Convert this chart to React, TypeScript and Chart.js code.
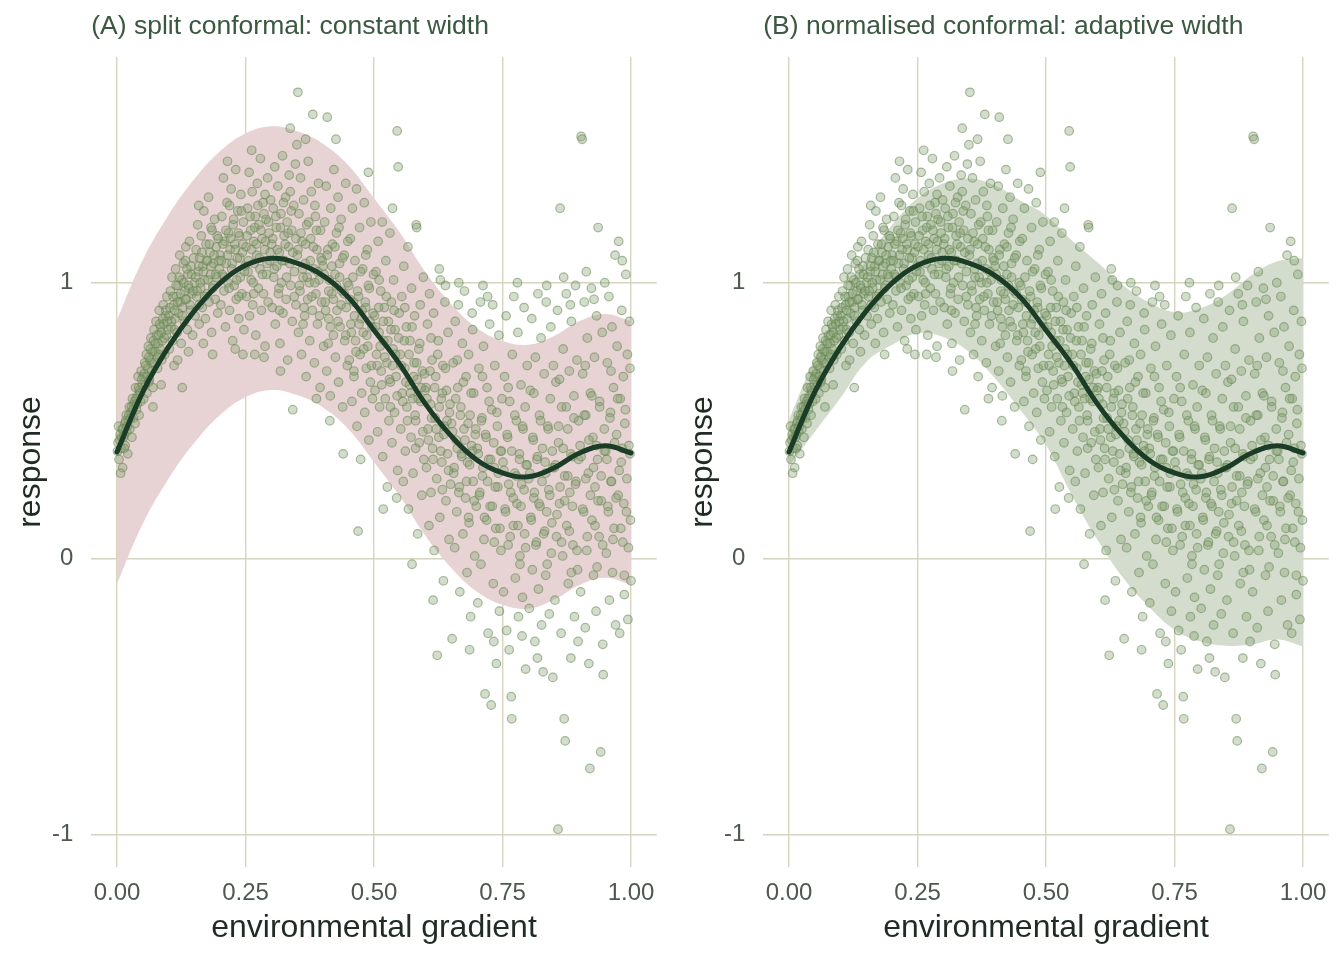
import React, { useEffect, useRef } from "react";
import { Chart, registerables } from "chart.js";

Chart.register(...registerables);

// Evaluation grid along the environmental gradient
const gridX = [0, 0.05, 0.1, 0.15, 0.2, 0.25, 0.3, 0.35, 0.4, 0.45, 0.5, 0.55, 0.6, 0.65, 0.7, 0.75, 0.8, 0.85, 0.9, 0.95, 1.0];

// Fitted mean response
const fitted = [0.387, 0.604, 0.767, 0.897, 0.998, 1.063, 1.089, 1.071, 1.027, 0.948, 0.828, 0.705, 0.561, 0.445, 0.358, 0.311, 0.297, 0.329, 0.383, 0.409, 0.383];

// (A) split conformal interval: constant half-width
const splitUpper = [0.865, 1.082, 1.245, 1.375, 1.476, 1.541, 1.567, 1.549, 1.505, 1.426, 1.306, 1.183, 1.039, 0.923, 0.836, 0.789, 0.775, 0.807, 0.861, 0.887, 0.861];
const splitLower = [-0.091, 0.126, 0.289, 0.419, 0.52, 0.585, 0.611, 0.593, 0.549, 0.47, 0.35, 0.227, 0.083, -0.033, -0.12, -0.167, -0.181, -0.149, -0.095, -0.069, -0.095];

// (B) normalised conformal interval: adaptive half-width
const normUpper = [0.503, 0.727, 0.919, 1.081, 1.208, 1.306, 1.36, 1.378, 1.353, 1.298, 1.244, 1.154, 1.074, 0.991, 0.929, 0.893, 0.908, 0.955, 1.027, 1.078, 1.089];
const normLower = [0.336, 0.459, 0.582, 0.712, 0.774, 0.817, 0.803, 0.749, 0.655, 0.539, 0.412, 0.231, 0.069, -0.069, -0.174, -0.257, -0.3, -0.315, -0.311, -0.293, -0.318];

const xTicks = [0, 0.25, 0.5, 0.75, 1];
const yTicks = [-1, 0, 1];

// Observed (gradient, response) pairs: the wider scatter, including the stragglers
const spreadObservations: [number, number][] = [
  [0.002,0.42],[0.004,0.36],[0.006,0.45],[0.008,0.40],[0.010,0.47],[0.011,0.33],[0.013,0.44],[0.015,0.49],[0.016,0.41],[0.018,0.52],[0.019,0.46],[0.021,0.38],[0.022,0.50],[0.024,0.55],[0.025,0.47],[0.027,0.53],[0.029,0.44],[0.030,0.58],[0.032,0.51],[0.033,0.56],[0.035,0.49],[0.036,0.62],[0.038,0.54],[0.040,0.59],[0.041,0.66],[0.043,0.52],[0.044,0.61],[0.046,0.57],[0.047,0.68],[0.049,0.63],[0.007,0.31],[0.003,0.48],
  [0.051,0.66],[0.052,0.58],[0.054,0.71],[0.055,0.63],[0.057,0.74],[0.058,0.60],[0.060,0.69],[0.061,0.77],[0.063,0.65],[0.064,0.72],[0.066,0.80],[0.067,0.68],[0.069,0.75],[0.070,0.62],[0.072,0.83],[0.073,0.71],[0.075,0.78],[0.076,0.86],[0.078,0.73],[0.079,0.69],[0.081,0.81],[0.082,0.90],[0.084,0.76],[0.085,0.84],[0.087,0.72],[0.088,0.79],[0.090,0.92],[0.091,0.85],[0.093,0.74],[0.094,0.88],[0.096,0.81],[0.097,0.95],[0.099,0.83],[0.070,0.55],[0.086,0.63],
  [0.101,0.88],[0.102,0.76],[0.104,0.97],[0.105,0.84],[0.107,1.02],[0.108,0.79],[0.110,0.92],[0.111,0.70],[0.113,0.87],[0.114,1.05],[0.116,0.95],[0.117,0.82],[0.119,0.99],[0.120,0.89],[0.122,1.10],[0.123,0.93],[0.125,0.78],[0.126,1.01],[0.128,0.91],[0.129,1.07],[0.131,0.86],[0.132,0.97],[0.134,1.13],[0.135,0.94],[0.137,0.83],[0.138,1.03],[0.140,0.98],[0.141,1.15],[0.143,0.90],[0.144,1.06],[0.146,0.96],[0.147,0.81],[0.149,1.09],[0.118,0.72],[0.139,0.75],[0.127,0.62],
  [0.151,1.00],[0.152,0.88],[0.154,1.12],[0.155,0.95],[0.157,1.21],[0.158,1.04],[0.160,0.85],[0.161,1.09],[0.163,0.98],[0.164,1.17],[0.166,0.91],[0.167,1.06],[0.169,1.26],[0.170,1.01],[0.172,0.87],[0.173,1.14],[0.175,0.96],[0.176,1.08],[0.178,1.31],[0.179,0.93],[0.181,1.11],[0.182,1.03],[0.184,0.82],[0.185,1.19],[0.187,0.99],[0.188,1.07],[0.190,1.23],[0.191,0.94],[0.193,1.13],[0.194,1.02],[0.196,0.89],[0.197,1.16],[0.199,1.05],[0.168,0.78],[0.186,0.74],[0.159,1.28],
  [0.201,1.10],[0.202,0.92],[0.204,1.24],[0.205,1.03],[0.207,1.38],[0.208,0.97],[0.210,1.15],[0.211,0.84],[0.213,1.07],[0.214,1.29],[0.216,1.00],[0.217,1.18],[0.219,0.90],[0.220,1.12],[0.222,1.34],[0.223,1.05],[0.225,0.79],[0.226,1.21],[0.228,0.99],[0.229,1.14],[0.231,1.41],[0.232,0.94],[0.234,1.09],[0.235,1.26],[0.237,0.87],[0.238,1.17],[0.240,1.02],[0.241,1.32],[0.243,0.96],[0.244,1.11],[0.246,1.22],[0.247,0.83],[0.249,1.06],[0.230,0.76],[0.215,1.44],[0.245,0.74],
  [0.251,1.13],[0.252,0.95],[0.254,1.27],[0.255,1.04],[0.257,1.40],[0.258,0.88],[0.260,1.19],[0.261,1.01],[0.263,1.33],[0.264,0.92],[0.266,1.15],[0.267,1.07],[0.269,1.24],[0.270,0.81],[0.272,1.10],[0.273,1.36],[0.275,0.98],[0.276,1.21],[0.278,1.05],[0.279,1.45],[0.281,0.90],[0.282,1.16],[0.284,1.29],[0.285,0.96],[0.287,1.12],[0.288,0.77],[0.290,1.23],[0.291,1.03],[0.293,1.38],[0.294,0.93],[0.296,1.18],[0.297,1.08],[0.299,1.30],[0.268,0.74],[0.286,0.73],[0.262,1.48],
  [0.301,1.14],[0.302,0.91],[0.304,1.27],[0.305,1.02],[0.307,1.42],[0.308,0.85],[0.310,1.20],[0.311,1.06],[0.313,1.35],[0.314,0.96],[0.316,1.11],[0.317,0.78],[0.319,1.25],[0.320,1.00],[0.322,1.46],[0.323,0.89],[0.325,1.17],[0.326,1.08],[0.328,1.31],[0.329,0.94],[0.331,1.22],[0.332,0.72],[0.334,1.13],[0.335,1.39],[0.337,1.56],[0.338,0.99],[0.340,1.19],[0.341,0.86],[0.342,0.54],[0.344,1.28],[0.345,1.04],[0.347,1.43],[0.348,0.92],[0.350,1.50],[0.352,1.69],[0.318,0.68],
  [0.351,1.10],[0.353,0.82],[0.354,1.25],[0.356,0.97],[0.357,1.38],[0.359,0.74],[0.360,1.15],[0.362,1.02],[0.363,1.30],[0.365,0.88],[0.366,1.07],[0.368,0.66],[0.369,1.21],[0.371,0.94],[0.372,1.44],[0.374,1.00],[0.375,0.79],[0.377,1.16],[0.378,1.33],[0.380,0.90],[0.381,1.61],[0.383,1.05],[0.384,0.71],[0.386,1.24],[0.387,0.96],[0.389,1.12],[0.390,0.85],[0.392,1.36],[0.393,1.01],[0.395,0.62],[0.396,1.19],[0.398,0.93],[0.399,1.08],[0.367,1.52],[0.388,0.58],
  [0.401,1.06],[0.402,0.77],[0.404,1.22],[0.405,0.93],[0.407,1.35],[0.408,0.68],[0.409,1.60],[0.410,1.12],[0.412,0.87],[0.413,1.01],[0.415,0.59],[0.416,1.27],[0.418,0.96],[0.419,1.14],[0.421,0.81],[0.422,1.41],[0.424,1.03],[0.425,0.73],[0.427,1.18],[0.428,0.90],[0.430,1.31],[0.431,0.64],[0.433,1.07],[0.434,0.84],[0.436,1.23],[0.437,0.97],[0.439,0.55],[0.440,0.38],[0.442,1.10],[0.443,0.79],[0.445,1.36],[0.446,0.91],[0.448,0.70],[0.449,1.15],[0.426,1.52],[0.414,0.50],
  [0.451,0.99],[0.452,0.72],[0.454,1.16],[0.455,0.85],[0.457,0.57],[0.458,1.27],[0.460,0.93],[0.461,0.66],[0.463,1.08],[0.464,0.79],[0.466,1.34],[0.467,0.48],[0.469,0.10],[0.470,0.95],[0.472,1.20],[0.473,0.74],[0.475,0.87],[0.476,0.60],[0.478,1.05],[0.479,0.82],[0.481,1.29],[0.482,0.53],[0.484,0.91],[0.485,0.69],[0.487,1.12],[0.488,0.77],[0.490,0.43],[0.491,0.98],[0.493,0.64],[0.494,1.22],[0.496,0.84],[0.497,0.58],[0.499,1.03],[0.474,0.36],[0.489,1.40],
  [0.501,0.88],[0.502,0.61],[0.504,1.04],[0.505,0.74],[0.507,0.46],[0.508,1.15],[0.510,0.82],[0.511,0.55],[0.513,0.97],[0.514,0.68],[0.516,1.22],[0.517,0.37],[0.519,0.79],[0.520,0.91],[0.522,0.58],[0.523,1.08],[0.525,0.71],[0.526,0.26],[0.528,0.86],[0.529,0.50],[0.531,1.18],[0.532,0.64],[0.534,0.93],[0.535,0.42],[0.537,0.76],[0.538,1.01],[0.540,0.53],[0.541,0.83],[0.543,0.66],[0.545,1.55],[0.546,0.32],[0.547,1.42],[0.549,0.89],[0.518,0.18],[0.536,1.27],[0.544,0.22],
  [0.551,0.74],[0.552,0.47],[0.554,0.95],[0.555,0.60],[0.557,0.28],[0.558,1.06],[0.560,0.69],[0.561,0.39],[0.563,0.84],[0.564,0.55],[0.566,1.13],[0.567,0.18],[0.569,0.63],[0.570,0.79],[0.572,0.44],[0.573,0.98],[0.575,0.58],[0.576,0.31],[0.578,0.71],[0.579,0.88],[0.581,0.50],[0.582,1.21],[0.584,0.65],[0.585,0.09],[0.587,0.76],[0.588,0.42],[0.590,0.92],[0.591,0.57],[0.593,0.23],[0.594,0.68],[0.596,1.02],[0.597,0.36],[0.599,0.61],[0.583,1.20],[0.574,-0.02],
  [0.601,0.62],[0.602,0.33],[0.604,0.85],[0.605,0.47],[0.607,0.12],[0.608,0.96],[0.610,0.56],[0.611,0.24],[0.613,0.72],[0.614,0.40],[0.616,0.89],[0.617,0.03],[0.619,0.51],[0.620,0.66],[0.622,0.29],[0.623,-0.35],[0.625,0.79],[0.626,0.44],[0.628,0.15],[0.629,1.01],[0.631,0.58],[0.632,0.35],[0.634,0.70],[0.635,-0.08],[0.637,0.48],[0.638,0.93],[0.640,0.21],[0.641,0.61],[0.643,0.38],[0.644,0.82],[0.646,0.07],[0.647,0.53],[0.649,0.27],[0.627,1.05],[0.639,0.99],[0.615,-0.15],
  [0.651,0.49],[0.652,-0.29],[0.654,0.71],[0.655,0.31],[0.657,0.04],[0.658,0.86],[0.660,0.43],[0.661,0.17],[0.663,0.62],[0.664,0.92],[0.666,0.26],[0.667,-0.12],[0.669,0.55],[0.670,0.38],[0.672,0.78],[0.673,0.09],[0.675,0.47],[0.676,0.97],[0.678,0.22],[0.679,0.66],[0.681,-0.05],[0.682,0.35],[0.684,0.74],[0.685,0.13],[0.687,0.52],[0.688,-0.21],[0.690,0.41],[0.691,0.89],[0.693,0.28],[0.694,0.60],[0.696,0.01],[0.697,0.45],[0.699,0.19],[0.665,1.00],[0.686,-0.33],[0.692,0.83],
  [0.701,0.40],[0.702,-0.16],[0.704,0.69],[0.705,0.23],[0.707,0.93],[0.708,-0.02],[0.710,0.51],[0.711,0.30],[0.713,0.77],[0.714,0.07],[0.716,-0.49],[0.717,0.45],[0.719,0.14],[0.720,0.62],[0.722,-0.27],[0.723,0.36],[0.725,0.85],[0.726,0.19],[0.728,-0.53],[0.729,0.54],[0.731,0.92],[0.732,-0.09],[0.734,0.33],[0.735,0.70],[0.737,0.11],[0.738,-0.38],[0.740,0.48],[0.741,0.26],[0.743,0.81],[0.744,-0.19],[0.746,0.39],[0.747,0.03],[0.749,0.58],[0.712,0.99],[0.733,-0.30],[0.721,0.95],
  [0.751,0.35],[0.752,-0.12],[0.754,0.66],[0.755,0.18],[0.757,0.88],[0.758,-0.26],[0.760,0.44],[0.761,0.05],[0.763,-0.33],[0.764,0.57],[0.766,0.24],[0.767,-0.50],[0.768,-0.58],[0.769,0.74],[0.771,0.12],[0.772,0.95],[0.774,0.31],[0.775,-0.07],[0.777,0.50],[0.778,0.20],[0.780,0.82],[0.781,-0.21],[0.783,0.38],[0.784,0.01],[0.786,0.63],[0.787,0.27],[0.789,-0.14],[0.790,0.47],[0.792,0.91],[0.793,0.09],[0.795,-0.40],[0.796,0.34],[0.798,0.70],[0.779,1.00],[0.788,-0.28],[0.794,0.55],
  [0.801,0.29],[0.802,-0.18],[0.804,0.61],[0.805,0.15],[0.807,0.87],[0.808,-0.04],[0.810,0.43],[0.811,0.22],[0.813,-0.30],[0.814,0.73],[0.816,0.06],[0.817,0.36],[0.819,0.96],[0.820,-0.11],[0.822,0.52],[0.823,0.19],[0.825,0.80],[0.826,-0.24],[0.828,0.40],[0.829,-0.41],[0.831,0.67],[0.832,0.10],[0.834,0.31],[0.835,0.93],[0.837,-0.02],[0.838,0.48],[0.840,0.25],[0.841,-0.20],[0.843,0.58],[0.844,0.84],[0.846,0.13],[0.847,0.39],[0.848,-0.43],[0.849,0.70],[0.818,-0.36],[0.836,0.99],
  [0.851,0.33],[0.852,-0.15],[0.854,0.64],[0.855,0.08],[0.857,0.90],[0.858,-0.98],[0.859,0.42],[0.861,0.20],[0.862,1.27],[0.864,-0.27],[0.865,0.55],[0.867,0.01],[0.868,0.76],[0.870,-0.58],[0.871,0.30],[0.872,-0.66],[0.874,0.96],[0.875,0.12],[0.877,0.47],[0.878,-0.09],[0.880,0.68],[0.881,0.24],[0.883,-0.36],[0.884,0.86],[0.886,0.37],[0.887,0.05],[0.889,0.59],[0.890,-0.21],[0.892,0.99],[0.893,0.28],[0.895,0.72],[0.896,-0.04],[0.898,0.50],[0.869,1.02],[0.882,0.92],[0.897,-0.30],
  [0.901,0.41],[0.902,-0.12],[0.903,1.53],[0.905,1.52],[0.906,0.67],[0.908,0.17],[0.909,0.93],[0.911,-0.25],[0.912,0.52],[0.914,0.03],[0.915,0.80],[0.917,0.31],[0.918,-0.38],[0.920,-0.76],[0.921,0.60],[0.923,0.98],[0.924,0.14],[0.926,0.44],[0.927,-0.06],[0.929,0.73],[0.930,0.26],[0.932,-0.19],[0.933,0.88],[0.935,0.36],[0.936,1.20],[0.938,0.08],[0.939,0.57],[0.941,-0.70],[0.942,0.21],[0.944,0.82],[0.945,-0.31],[0.946,-0.42],[0.948,0.47],[0.949,1.00],[0.913,1.04],[0.928,0.94],
  [0.951,0.39],[0.952,0.02],[0.954,0.71],[0.955,0.19],[0.957,0.95],[0.958,-0.15],[0.960,0.53],[0.961,0.28],[0.963,0.84],[0.964,-0.05],[0.966,0.62],[0.967,0.11],[0.969,1.10],[0.970,-0.24],[0.972,0.45],[0.973,0.77],[0.975,0.23],[0.976,1.15],[0.978,-0.27],[0.979,0.58],[0.981,0.35],[0.982,0.90],[0.984,0.06],[0.985,0.66],[0.987,-0.13],[0.988,0.49],[0.990,1.03],[0.991,0.17],[0.993,0.74],[0.994,-0.22],[0.996,0.41],[0.997,0.86],[0.999,0.14],[1.000,-0.08],[0.998,0.69],[0.983,1.08],
];

// Observed pairs in the dense core of the cloud
const coreObservations: [number, number][] = [
  [0.005,0.43],[0.009,0.44],[0.012,0.47],[0.014,0.45],[0.017,0.50],[0.020,0.48],[0.023,0.52],[0.026,0.51],[0.028,0.55],[0.031,0.54],[0.034,0.57],[0.037,0.58],[0.039,0.56],[0.042,0.62],[0.045,0.60],[0.048,0.65],[0.001,0.39],[0.014,0.40],
  [0.053,0.67],[0.056,0.70],[0.059,0.66],[0.062,0.73],[0.065,0.76],[0.068,0.71],[0.071,0.79],[0.074,0.75],[0.077,0.81],[0.080,0.78],[0.083,0.85],[0.086,0.82],[0.089,0.87],[0.092,0.80],[0.095,0.90],[0.098,0.86],[0.062,0.64],[0.081,0.74],
  [0.103,0.91],[0.106,0.86],[0.109,0.95],[0.112,0.90],[0.115,0.99],[0.118,0.93],[0.121,1.02],[0.124,0.96],[0.127,0.88],[0.130,1.00],[0.133,0.94],[0.136,1.05],[0.139,0.99],[0.142,0.92],[0.145,1.03],[0.148,0.97],[0.112,0.83],[0.133,1.08],
  [0.153,1.02],[0.156,0.97],[0.159,1.06],[0.162,1.00],[0.165,1.11],[0.168,1.04],[0.171,0.95],[0.174,1.08],[0.177,1.01],[0.180,1.14],[0.183,1.06],[0.186,0.98],[0.189,1.10],[0.192,1.03],[0.195,1.17],[0.198,1.08],[0.160,0.92],[0.183,1.20],
  [0.203,1.08],[0.206,1.14],[0.209,1.02],[0.212,1.19],[0.215,1.10],[0.218,0.98],[0.221,1.16],[0.224,1.07],[0.227,1.23],[0.230,1.12],[0.233,1.01],[0.236,1.18],[0.239,1.09],[0.242,1.26],[0.245,1.14],[0.248,1.04],[0.219,1.28],[0.237,0.95],
  [0.253,1.17],[0.256,1.08],[0.259,1.24],[0.262,1.12],[0.265,1.00],[0.268,1.20],[0.271,1.14],[0.274,1.28],[0.277,1.09],[0.280,1.19],[0.283,1.03],[0.286,1.25],[0.289,1.15],[0.292,1.07],[0.295,1.22],[0.298,1.11],[0.266,0.96],[0.288,1.32],
  [0.303,1.16],[0.306,1.05],[0.309,1.24],[0.312,1.12],[0.315,0.98],[0.318,1.20],[0.321,1.08],[0.324,1.29],[0.327,1.14],[0.330,1.02],[0.333,1.18],[0.336,1.07],[0.339,1.26],[0.342,1.11],[0.345,0.95],[0.348,1.16],[0.316,0.90],[0.337,1.33],
  [0.352,1.12],[0.355,0.99],[0.358,1.18],[0.361,1.05],[0.364,0.91],[0.367,1.14],[0.370,1.02],[0.373,1.22],[0.376,1.08],[0.379,0.95],[0.382,1.13],[0.385,1.00],[0.388,1.19],[0.391,1.04],[0.394,0.88],[0.397,1.09],[0.362,0.85],[0.385,1.28],
  [0.403,1.03],[0.406,0.90],[0.409,1.10],[0.412,0.97],[0.415,0.84],[0.418,1.06],[0.421,0.94],[0.424,1.13],[0.427,0.99],[0.430,0.86],[0.433,1.02],[0.436,0.92],[0.439,1.09],[0.442,0.96],[0.445,0.81],[0.448,1.00],[0.411,0.78],[0.432,1.20],
  [0.453,0.94],[0.456,0.82],[0.459,1.02],[0.462,0.88],[0.465,0.75],[0.468,0.97],[0.471,0.85],[0.474,1.04],[0.477,0.90],[0.480,0.76],[0.483,0.93],[0.486,0.81],[0.489,0.99],[0.492,0.86],[0.495,0.70],[0.498,0.89],[0.461,0.68],[0.484,1.10],
  [0.503,0.84],[0.506,0.70],[0.509,0.91],[0.512,0.77],[0.515,0.63],[0.518,0.86],[0.521,0.73],[0.524,0.95],[0.527,0.79],[0.530,0.65],[0.533,0.83],[0.536,0.70],[0.539,0.90],[0.542,0.74],[0.545,0.59],[0.548,0.80],[0.510,1.01],[0.532,0.55],
  [0.553,0.70],[0.556,0.57],[0.559,0.79],[0.562,0.64],[0.565,0.50],[0.568,0.74],[0.571,0.60],[0.574,0.84],[0.577,0.66],[0.580,0.52],[0.583,0.71],[0.586,0.58],[0.589,0.78],[0.592,0.62],[0.595,0.46],[0.598,0.67],[0.560,0.91],[0.581,0.40],
  [0.603,0.58],[0.606,0.43],[0.609,0.68],[0.612,0.51],[0.615,0.36],[0.618,0.62],[0.621,0.47],[0.624,0.74],[0.627,0.55],[0.630,0.39],[0.633,0.60],[0.636,0.45],[0.639,0.69],[0.642,0.50],[0.645,0.32],[0.648,0.56],[0.611,0.80],[0.633,0.25],
  [0.653,0.46],[0.656,0.33],[0.659,0.58],[0.662,0.40],[0.665,0.24],[0.668,0.52],[0.671,0.37],[0.674,0.64],[0.677,0.43],[0.680,0.28],[0.683,0.49],[0.686,0.34],[0.689,0.60],[0.692,0.39],[0.695,0.21],[0.698,0.47],[0.662,0.72],[0.684,0.15],
  [0.703,0.38],[0.706,0.24],[0.709,0.50],[0.712,0.33],[0.715,0.15],[0.718,0.44],[0.721,0.28],[0.724,0.57],[0.727,0.36],[0.730,0.19],[0.733,0.42],[0.736,0.26],[0.739,0.53],[0.742,0.31],[0.745,0.11],[0.748,0.39],[0.711,0.66],[0.734,0.06],
  [0.753,0.32],[0.756,0.17],[0.759,0.45],[0.762,0.27],[0.765,0.08],[0.768,0.39],[0.771,0.22],[0.774,0.52],[0.777,0.30],[0.780,0.12],[0.783,0.36],[0.786,0.19],[0.789,0.48],[0.792,0.25],[0.795,0.04],[0.798,0.34],[0.761,0.62],[0.784,-0.02],
  [0.803,0.31],[0.806,0.14],[0.809,0.44],[0.812,0.24],[0.815,0.05],[0.818,0.37],[0.821,0.20],[0.824,0.50],[0.827,0.28],[0.830,0.09],[0.833,0.35],[0.836,0.17],[0.839,0.47],[0.842,0.23],[0.845,0.02],[0.848,0.33],[0.811,0.60],[0.834,-0.06],
  [0.853,0.34],[0.856,0.16],[0.859,0.48],[0.862,0.26],[0.865,0.06],[0.868,0.40],[0.871,0.21],[0.874,0.55],[0.877,0.30],[0.880,0.10],[0.883,0.38],[0.886,0.19],[0.889,0.51],[0.892,0.27],[0.895,0.03],[0.898,0.36],[0.861,0.65],[0.884,-0.05],
  [0.903,0.37],[0.906,0.18],[0.909,0.52],[0.912,0.29],[0.915,0.08],[0.918,0.43],[0.921,0.23],[0.924,0.59],[0.927,0.33],[0.930,0.12],[0.933,0.41],[0.936,0.21],[0.939,0.55],[0.942,0.30],[0.945,0.05],[0.948,0.39],[0.911,0.70],[0.934,-0.03],
  [0.953,0.36],[0.956,0.17],[0.959,0.51],[0.962,0.28],[0.965,0.07],[0.968,0.42],[0.971,0.22],[0.974,0.58],[0.977,0.32],[0.980,0.11],[0.983,0.40],[0.986,0.20],[0.989,0.54],[0.992,0.29],[0.995,0.04],[0.998,0.38],[0.961,0.68],[0.987,-0.06],
];

const FONT = "'Liberation Sans', Arial, Helvetica, sans-serif";
const GRID = "#d4d4c0";
const TICK_COLOR = "#4d584f";
const AXIS_TITLE_COLOR = "#1f2b23";
const PANEL_TITLE_COLOR = "#3b5841";

const CANVAS_W = 672;
const CANVAS_H = 960;

type PanelProps = {
  title: string;
  upper: number[];
  lower: number[];
  bandColor: string;
  left: number;
};

const toPoints = (ys: number[]) => gridX.map((x, i) => ({ x, y: ys[i] }));
const scatterPoints = [...spreadObservations, ...coreObservations].map(([x, y]) => ({ x, y }));

function Panel({ title, upper, lower, bandColor, left }: PanelProps) {
  const canvasRef = useRef<HTMLCanvasElement | null>(null);

  useEffect(() => {
    const canvas = canvasRef.current;
    if (!canvas) return;

    // Panel title and axis titles, placed like ggplot's theme_minimal
    const textPlugin = {
      id: "panelText",
      afterDraw(chart: any) {
        const ctx = chart.ctx;
        const area = chart.chartArea;
        ctx.save();
        ctx.fillStyle = PANEL_TITLE_COLOR;
        ctx.font = `26.5px ${FONT}`;
        ctx.textAlign = "left";
        ctx.textBaseline = "middle";
        ctx.fillText(title, area.left, 27);

        ctx.fillStyle = AXIS_TITLE_COLOR;
        ctx.font = `32px ${FONT}`;
        ctx.textAlign = "center";
        ctx.textBaseline = "middle";
        ctx.fillText("environmental gradient", (area.left + area.right) / 2, 928);

        ctx.translate(31, (area.top + area.bottom) / 2);
        ctx.rotate(-Math.PI / 2);
        ctx.fillText("response", 0, 0);
        ctx.restore();
      },
    };

    const chart = new Chart(canvas, {
      type: "line",
      data: {
        datasets: [
          {
            data: toPoints(upper),
            fill: "+1",
            backgroundColor: bandColor,
            borderWidth: 0,
            borderColor: "rgba(0,0,0,0)",
            pointRadius: 0,
            tension: 0.4,
            order: 3,
          },
          {
            data: toPoints(lower),
            fill: false,
            borderWidth: 0,
            borderColor: "rgba(0,0,0,0)",
            pointRadius: 0,
            tension: 0.4,
            order: 3,
          },
          {
            data: scatterPoints,
            showLine: false,
            fill: false,
            pointRadius: 4.3,
            pointBorderWidth: 1.2,
            pointBackgroundColor: "rgba(125,155,105,0.34)",
            pointBorderColor: "rgba(105,135,85,0.55)",
            order: 2,
          },
          {
            data: toPoints(fitted),
            fill: false,
            borderColor: "#1b3c27",
            borderWidth: 5,
            pointRadius: 0,
            tension: 0.4,
            borderCapStyle: "round",
            order: 1,
          },
        ],
      },
      options: {
        animation: false,
        responsive: false,
        maintainAspectRatio: false,
        devicePixelRatio: 1,
        events: [],
        layout: { padding: { top: 57, right: 15.3, bottom: 0, left: 0 } },
        plugins: {
          legend: { display: false },
          tooltip: { enabled: false },
          title: { display: false },
        },
        scales: {
          x: {
            type: "linear",
            min: -0.05,
            max: 1.05,
            afterBuildTicks: (scale: any) => {
              scale.ticks = xTicks.map((value) => ({ value }));
            },
            afterFit: (scale: any) => {
              scale.height = 93;
            },
            grid: { color: GRID, lineWidth: 1.4, drawTicks: false, tickLength: 0 },
            border: { display: false },
            ticks: {
              autoSkip: false,
              maxRotation: 0,
              padding: 12,
              color: TICK_COLOR,
              font: { family: FONT, size: 24 },
              callback: (v: any) => Number(v).toFixed(2),
            },
          },
          y: {
            type: "linear",
            min: -1.117,
            max: 1.818,
            afterBuildTicks: (scale: any) => {
              scale.ticks = yTicks.map((value) => ({ value }));
            },
            afterFit: (scale: any) => {
              scale.width = 91.3;
            },
            grid: { color: GRID, lineWidth: 1.4, drawTicks: false, tickLength: 0 },
            border: { display: false },
            ticks: {
              autoSkip: false,
              padding: 18,
              color: TICK_COLOR,
              font: { family: FONT, size: 24 },
              callback: (v: any) => String(v),
            },
          },
        },
      },
      plugins: [textPlugin],
    } as any);

    return () => chart.destroy();
  }, [title, upper, lower, bandColor]);

  return (
    <canvas
      ref={canvasRef}
      width={CANVAS_W}
      height={CANVAS_H}
      style={{ position: "absolute", left, top: 0, width: CANVAS_W, height: CANVAS_H }}
    />
  );
}

export default function App() {
  return (
    <div style={{ position: "absolute", left: 0, top: 0, width: 1344, height: 960, background: "#ffffff" }}>
      <Panel
        title="(A) split conformal: constant width"
        upper={splitUpper}
        lower={splitLower}
        bandColor="#e8d3d4"
        left={0}
      />
      <Panel
        title="(B) normalised conformal: adaptive width"
        upper={normUpper}
        lower={normLower}
        bandColor="#d3dccd"
        left={672}
      />
    </div>
  );
}
